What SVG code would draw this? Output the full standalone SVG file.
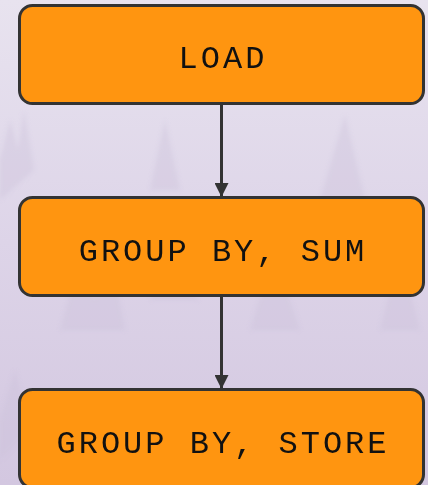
<svg xmlns="http://www.w3.org/2000/svg" width="428" height="485" viewBox="0 0 428 485">
  <defs>
    <linearGradient id="bg" x1="0" y1="0" x2="0" y2="1">
      <stop offset="0" stop-color="#e8e3ef"/>
      <stop offset="0.5" stop-color="#ddd4e8"/>
      <stop offset="1" stop-color="#d3c7e0"/>
    </linearGradient>
    <filter id="mist" x="-10%" y="-10%" width="120%" height="120%">
      <feGaussianBlur stdDeviation="2"/>
    </filter>
    <marker id="arrow" markerWidth="14" markerHeight="14" refX="14" refY="7" orient="auto" markerUnits="userSpaceOnUse">
      <path d="M0,0 L14,7 L0,14 Z" fill="#333333"/>
    </marker>
    <style>
      .box { fill: #ff9510; stroke: #333333; stroke-width: 3; }
      .label { font-family: "Liberation Mono", "Courier New", monospace; font-size: 32px; letter-spacing: 3px; fill: #111111; text-anchor: middle; }
      .edge { stroke: #333333; stroke-width: 3; fill: none; }
      .tree { fill: #cbbfda; opacity: 0.35; }
    </style>
  </defs>

  <!-- misty forest backdrop -->
  <rect width="428" height="485" fill="url(#bg)"/>
  <g id="forest" filter="url(#mist)">
    <path class="tree" d="M0,160 L10,120 L18,150 L24,110 L34,170 L0,200 Z"/>
    <path class="tree" d="M60,330 L80,260 L95,300 L110,250 L125,330 Z"/>
    <path class="tree" d="M150,300 L170,230 L185,290 L200,300 Z"/>
    <path class="tree" d="M250,330 L275,250 L290,300 L300,330 Z"/>
    <path class="tree" d="M320,200 L345,115 L365,200 Z"/>
    <path class="tree" d="M380,330 L400,250 L420,330 Z"/>
    <path class="tree" d="M150,190 L165,120 L180,190 Z"/>
    <path class="tree" d="M0,420 L15,370 L30,430 L0,460 Z"/>
  </g>

  <!-- connectors -->
  <g id="edges">
    <line class="edge" x1="221.5" y1="104" x2="221.5" y2="197" marker-end="url(#arrow)"/>
    <line class="edge" x1="221.5" y1="296" x2="221.5" y2="389" marker-end="url(#arrow)"/>
  </g>

  <!-- nodes -->
  <g id="load">
    <rect class="box" x="19.5" y="5.5" width="404" height="98" rx="13"/>
    <text class="label" x="223" y="68">LOAD</text>
  </g>
  <g id="group-sum">
    <rect class="box" x="19.5" y="197.5" width="404" height="98" rx="13"/>
    <text class="label" x="223" y="261">GROUP BY, SUM</text>
  </g>
  <g id="group-store">
    <rect class="box" x="19.5" y="389.5" width="404" height="98" rx="13"/>
    <text class="label" x="223" y="453">GROUP BY, STORE</text>
  </g>
</svg>
